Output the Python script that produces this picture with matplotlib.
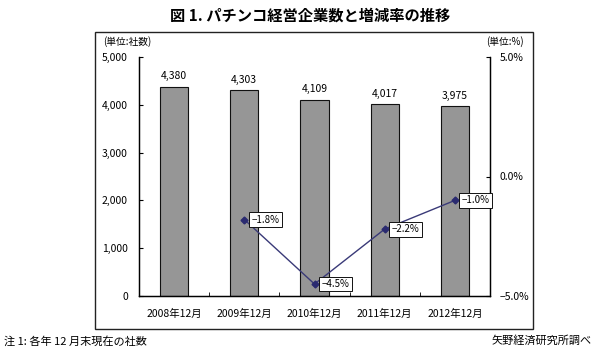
import matplotlib.pyplot as plt
from matplotlib.patches import Rectangle

plt.rcParams['font.family'] = ['Noto Sans CJK JP', 'DejaVu Sans']

months = ["2008年12月", "2009年12月", "2010年12月", "2011年12月", "2012年12月"]
companies = [4380, 4303, 4109, 4017, 3975]
change_months = [1, 2, 3, 4]
change_rate = [-1.8, -4.5, -2.2, -1.0]

left_ticks = [0, 1000, 2000, 3000, 4000, 5000]
right_ticks = [-5.0, 0.0, 5.0]

fig = plt.figure(figsize=(6, 3.64), dpi=100)
W, H = 600, 364

# outer frame
fig.patches.append(Rectangle((95 / W, 1 - 329 / H), (533 - 95) / W, (329 - 32) / H,
                             transform=fig.transFigure, fill=False,
                             edgecolor="#222222", linewidth=1.0))

ax = fig.add_axes([139 / W, 1 - 296 / H, (490 - 139) / W, (296 - 57) / H])
x = range(len(months))
ax.bar(x, companies, width=0.4, color="#969696", edgecolor="#111111", linewidth=0.8)
for i, v in enumerate(companies):
    ax.text(i, v + 110, f"{v:,}", ha="center", va="bottom", fontsize=7.5)

ax.set_xlim(-0.5, 4.5)
ax.set_ylim(0, 5000)
ax.set_yticks(left_ticks)
ax.set_yticklabels([f"{t:,}" for t in left_ticks])
ax.set_xticks(x)
ax.set_xticklabels(months)
ax.set_xticks([i + 0.5 for i in range(4)], minor=True)
ax.tick_params(axis="x", which="major", length=0, pad=9, labelsize=7.5)
ax.tick_params(axis="x", which="minor", direction="in", length=3)
ax.tick_params(axis="y", direction="in", length=3, pad=8, labelsize=7.5)
ax.spines["top"].set_visible(False)
for s in ["left", "bottom", "right"]:
    ax.spines[s].set_linewidth(0.9)

ax2 = ax.twinx()
ax2.plot(change_months, change_rate, color="#3a3a78", linewidth=1.0,
         marker="D", markersize=3.5, markerfacecolor="#2a2a70", markeredgecolor="#2a2a70")
for xi, v in zip(change_months, change_rate):
    ax2.annotate(f"−{abs(v):.1f}%", (xi, v), xytext=(5, 0), textcoords="offset points",
                 ha="left", va="center", fontsize=7,
                 bbox=dict(boxstyle="square,pad=0.25", facecolor="white",
                           edgecolor="#111111", linewidth=0.7))
ax2.set_ylim(-5, 5)
ax2.set_yticks(right_ticks)
ax2.set_yticklabels(["−5.0%", "0.0%", "5.0%"])
ax2.tick_params(axis="y", direction="in", length=3, pad=7, labelsize=7.5)
ax2.spines["top"].set_visible(False)
for s in ["left", "bottom", "right"]:
    ax2.spines[s].set_linewidth(0.9)

fig.text(103 / W, 1 - 42 / H, "(単位:社数)", fontsize=7, ha="left", va="center")
fig.text(524 / W, 1 - 42 / H, "(単位:%)", fontsize=7, ha="right", va="center")

fig.text(310 / W, 1 - 16 / H, "図 1. パチンコ経営企業数と増減率の推移", fontsize=11,
         ha="center", va="center", fontweight="bold")
fig.text(4 / W, 1 - 341 / H, "注 1: 各年 12 月末現在の社数", fontsize=8, ha="left", va="center")
fig.text(592 / W, 1 - 341 / H, "矢野経済研究所調べ", fontsize=8, ha="right", va="center")

fig.savefig("out.png", dpi=100)
